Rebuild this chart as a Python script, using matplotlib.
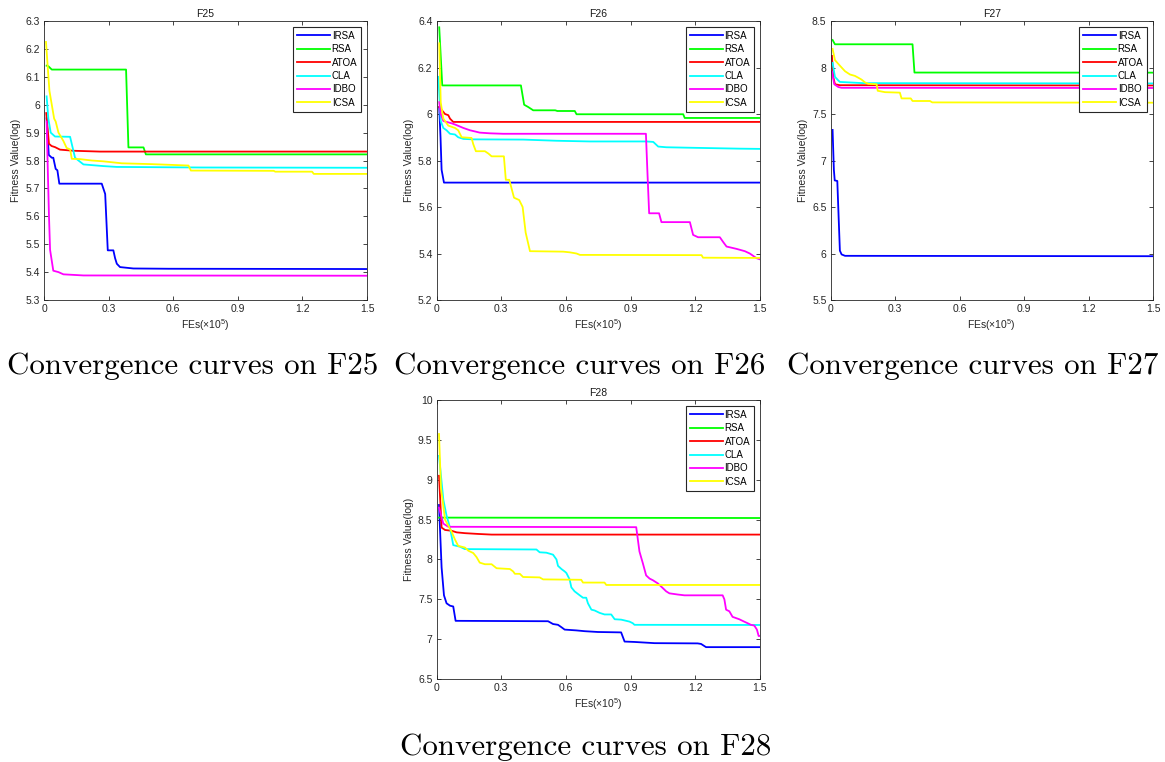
import numpy as np
import matplotlib
matplotlib.use("Agg")
import matplotlib.pyplot as plt
from matplotlib.ticker import FormatStrFormatter, MultipleLocator

plt.rcParams['font.family'] = ['Liberation Sans', 'DejaVu Sans']
plt.rcParams['mathtext.fontset'] = 'custom'
plt.rcParams['mathtext.rm'] = 'Liberation Sans'
plt.rcParams['mathtext.it'] = 'Liberation Sans:italic'

names = ['IRSA', 'RSA', 'ATOA', 'CLA', 'IDBO', 'ICSA']
colors = ['#0000ff', '#00ff00', '#ff0000', '#00ffff', '#ff00ff', '#ffff00']

# ---- F25 ----
f25_irsa_x = [0.012, 0.022, 0.036, 0.043, 0.054, 0.062, 0.071, 0.268, 0.284, 0.296, 0.322, 0.330, 0.338, 0.353, 0.415, 0.58, 1.5]
f25_irsa_y = [5.951, 5.82, 5.81, 5.81, 5.77, 5.765, 5.717, 5.717, 5.68, 5.478, 5.478, 5.45, 5.43, 5.418, 5.413, 5.412, 5.411]
f25_rsa_x = [0.012, 0.02, 0.036, 0.381, 0.392, 0.462, 0.473, 1.5]
f25_rsa_y = [6.14, 6.138, 6.126, 6.126, 5.847, 5.847, 5.822, 5.822]
f25_atoa_x = [0.01, 0.023, 0.035, 0.051, 0.074, 0.136, 0.26, 1.5]
f25_atoa_y = [5.97, 5.86, 5.852, 5.848, 5.839, 5.835, 5.832, 5.832]
f25_cla_x = [0.012, 0.02, 0.031, 0.051, 0.121, 0.144, 0.16, 0.183, 0.276, 0.338, 0.726, 1.5]
f25_cla_y = [6.03, 5.95, 5.9, 5.886, 5.885, 5.81, 5.8, 5.786, 5.78, 5.777, 5.775, 5.774]
f25_idbo_x = [0.012, 0.018, 0.023, 0.028, 0.043, 0.067, 0.09, 0.183, 1.5]
f25_idbo_y = [5.94, 5.75, 5.6, 5.48, 5.405, 5.40, 5.392, 5.388, 5.387]
f25_icsa_x = [0.009, 0.025, 0.036, 0.047, 0.054, 0.067, 0.09, 0.105, 0.121, 0.129, 0.167, 0.222, 0.276,
              0.361, 0.501, 0.671, 0.682, 1.067, 1.074, 1.245, 1.253, 1.5]
f25_icsa_y = [6.225, 6.05, 6.0, 5.95, 5.94, 5.9, 5.87, 5.845, 5.84, 5.806, 5.805, 5.80, 5.797,
              5.79, 5.787, 5.782, 5.764, 5.763, 5.76, 5.76, 5.752, 5.752]

# ---- F26 ----
f26_irsa_x = [0.012, 0.018, 0.023, 0.034, 1.5]
f26_irsa_y = [6.03, 5.9, 5.76, 5.705, 5.705]
f26_rsa_x = [0.012, 0.026, 0.391, 0.406, 0.425, 0.448, 0.55, 0.56, 0.641, 0.649, 1.144, 1.151, 1.5]
f26_rsa_y = [6.373, 6.123, 6.123, 6.04, 6.03, 6.016, 6.016, 6.013, 6.013, 5.999, 5.999, 5.983, 5.983]
f26_atoa_x = [0.012, 0.039, 0.054, 0.062, 0.077, 1.5]
f26_atoa_y = [6.03, 6.0, 5.995, 5.98, 5.966, 5.966]
f26_cla_x = [0.008, 0.019, 0.031, 0.046, 0.062, 0.085, 0.1, 0.124, 0.17, 0.402, 0.556, 0.711, 0.974,
             1.005, 1.028, 1.066, 1.175, 1.406, 1.5]
f26_cla_y = [6.16, 5.97, 5.94, 5.93, 5.915, 5.912, 5.90, 5.893, 5.891, 5.89, 5.885, 5.882, 5.882,
             5.88, 5.86, 5.857, 5.855, 5.851, 5.85]
f26_idbo_x = [0.012, 0.019, 0.031, 0.07, 0.085, 0.124, 0.155, 0.178, 0.2, 0.247, 0.309, 0.971, 0.978,
              0.986, 1.032, 1.043, 1.175, 1.19, 1.213, 1.314, 1.329, 1.345, 1.391, 1.43, 1.453, 1.484, 1.5]
f26_idbo_y = [6.051, 6.0, 5.97, 5.96, 5.955, 5.94, 5.93, 5.925, 5.92, 5.917, 5.915, 5.915, 5.75,
              5.573, 5.573, 5.535, 5.535, 5.48, 5.47, 5.47, 5.45, 5.43, 5.42, 5.41, 5.40, 5.38, 5.375]
f26_icsa_x = [0.012, 0.019, 0.031, 0.054, 0.085, 0.1, 0.116, 0.162, 0.17, 0.182, 0.224, 0.24, 0.255,
              0.312, 0.321, 0.337, 0.359, 0.383, 0.399, 0.413, 0.433, 0.587, 0.618, 0.649, 0.665,
              1.229, 1.236, 1.5]
f26_icsa_y = [6.304, 6.05, 5.98, 5.95, 5.94, 5.93, 5.90, 5.897, 5.87, 5.84, 5.84, 5.83, 5.818,
              5.818, 5.717, 5.717, 5.64, 5.63, 5.60, 5.49, 5.41, 5.408, 5.405, 5.40, 5.394,
              5.393, 5.382, 5.381]

# ---- F27 ----
f27_irsa_x = [0.009, 0.015, 0.019, 0.031, 0.037, 0.043, 0.051, 0.067, 1.5]
f27_irsa_y = [7.329, 6.9, 6.786, 6.78, 6.4, 6.03, 5.99, 5.975, 5.971]
f27_rsa_x = [0.009, 0.02, 0.381, 0.39, 1.5]
f27_rsa_y = [8.296, 8.25, 8.25, 7.946, 7.945]
f27_atoa_x = [0.006, 0.012, 0.02, 0.043, 1.5]
f27_atoa_y = [8.125, 7.9, 7.82, 7.81, 7.807]
f27_cla_x = [0.009, 0.02, 0.036, 0.043, 0.152, 1.5]
f27_cla_y = [8.05, 7.9, 7.86, 7.845, 7.832, 7.829]
f27_idbo_x = [0.006, 0.017, 0.036, 0.051, 1.5]
f27_idbo_y = [7.957, 7.82, 7.79, 7.782, 7.78]
f27_icsa_x = [0.009, 0.02, 0.043, 0.067, 0.09, 0.113, 0.129, 0.144, 0.16, 0.175, 0.214, 0.219, 0.253,
              0.322, 0.33, 0.373, 0.381, 0.462, 0.473, 1.5]
f27_icsa_y = [8.2, 8.08, 8.02, 7.96, 7.925, 7.91, 7.89, 7.87, 7.84, 7.825, 7.82, 7.75, 7.735,
              7.73, 7.668, 7.668, 7.64, 7.64, 7.625, 7.622]

# ---- F28 ----
f28_irsa_x = [0.011, 0.023, 0.034, 0.046, 0.062, 0.077, 0.088, 0.517, 0.54, 0.563, 0.579, 0.594, 0.648,
              0.687, 0.748, 0.856, 0.872, 0.918, 0.98, 1.011, 1.211, 1.227, 1.25, 1.5]
f28_irsa_y = [8.684, 7.9, 7.55, 7.45, 7.42, 7.41, 7.23, 7.225, 7.19, 7.18, 7.15, 7.12, 7.11,
              7.10, 7.09, 7.085, 6.97, 6.965, 6.955, 6.95, 6.947, 6.94, 6.90, 6.9]
f28_rsa_x = [0.011, 1.5]
f28_rsa_y = [8.525, 8.52]
f28_atoa_x = [0.011, 0.023, 0.039, 0.069, 0.093, 0.131, 0.193, 0.255, 1.5]
f28_atoa_y = [9.05, 8.4, 8.37, 8.36, 8.34, 8.33, 8.32, 8.312, 8.312]
f28_cla_x = [0.011, 0.031, 0.046, 0.062, 0.077, 0.108, 0.131, 0.463, 0.478, 0.509, 0.54, 0.556, 0.563,
             0.579, 0.594, 0.602, 0.617, 0.625, 0.64, 0.664, 0.679, 0.694, 0.702, 0.718, 0.733,
             0.756, 0.779, 0.81, 0.826, 0.856, 0.872, 0.895, 0.91, 0.918, 1.5]
f28_cla_y = [9.30, 8.75, 8.55, 8.4, 8.18, 8.16, 8.13, 8.125, 8.09, 8.085, 8.06, 8.0, 7.92,
             7.88, 7.85, 7.83, 7.75, 7.65, 7.6, 7.55, 7.52, 7.52, 7.45, 7.37, 7.36,
             7.33, 7.31, 7.31, 7.25, 7.245, 7.235, 7.22, 7.2, 7.18, 7.178]
f28_idbo_x = [0.011, 0.031, 0.054, 0.926, 0.941, 0.957, 0.972, 0.988, 1.003, 1.026, 1.042, 1.065, 1.08,
              1.119, 1.15, 1.327, 1.335, 1.343, 1.358, 1.373, 1.404, 1.427, 1.443, 1.458, 1.474,
              1.486, 1.494, 1.5]
f28_idbo_y = [8.65, 8.45, 8.41, 8.405, 8.1, 7.95, 7.8, 7.76, 7.74, 7.7, 7.66, 7.6, 7.575,
              7.56, 7.55, 7.55, 7.5, 7.37, 7.35, 7.28, 7.25, 7.22, 7.2, 7.18, 7.17,
              7.12, 7.04, 7.04]
f28_icsa_x = [0.011, 0.02, 0.039, 0.069, 0.085, 0.1, 0.131, 0.147, 0.17, 0.185, 0.2, 0.224, 0.255,
              0.278, 0.34, 0.355, 0.363, 0.386, 0.401, 0.478, 0.494, 0.671, 0.679, 0.779, 0.787, 1.5]
f28_icsa_y = [9.574, 8.9, 8.5, 8.35, 8.25, 8.17, 8.15, 8.11, 8.08, 8.03, 7.96, 7.94, 7.94,
              7.89, 7.88, 7.85, 7.82, 7.82, 7.78, 7.775, 7.75, 7.745, 7.71, 7.71, 7.68, 7.68]

panels = [
    ('F25', [0.0378, 0.6063, 0.2772, 0.3661], (5.3, 6.3), 0.1,
     [(f25_irsa_x, f25_irsa_y), (f25_rsa_x, f25_rsa_y), (f25_atoa_x, f25_atoa_y),
      (f25_cla_x, f25_cla_y), (f25_idbo_x, f25_idbo_y), (f25_icsa_x, f25_icsa_y)]),
    ('F26', [0.3748, 0.6063, 0.2775, 0.3661], (5.2, 6.4), 0.2,
     [(f26_irsa_x, f26_irsa_y), (f26_rsa_x, f26_rsa_y), (f26_atoa_x, f26_atoa_y),
      (f26_cla_x, f26_cla_y), (f26_idbo_x, f26_idbo_y), (f26_icsa_x, f26_icsa_y)]),
    ('F27', [0.7130, 0.6063, 0.2767, 0.3661], (5.5, 8.5), 0.5,
     [(f27_irsa_x, f27_irsa_y), (f27_rsa_x, f27_rsa_y), (f27_atoa_x, f27_atoa_y),
      (f27_cla_x, f27_cla_y), (f27_idbo_x, f27_idbo_y), (f27_icsa_x, f27_icsa_y)]),
    ('F28', [0.3748, 0.1089, 0.2775, 0.3661], (6.5, 10), 0.5,
     [(f28_irsa_x, f28_irsa_y), (f28_rsa_x, f28_rsa_y), (f28_atoa_x, f28_atoa_y),
      (f28_cla_x, f28_cla_y), (f28_idbo_x, f28_idbo_y), (f28_icsa_x, f28_icsa_y)]),
]

fig = plt.figure(figsize=(11.65, 7.62), dpi=100)
edge = '#262626'

for title, rect, ylim, ystep, curves in panels:
    ax = fig.add_axes(rect)
    for (x, y), name, c in zip(curves, names, colors):
        ax.plot(x, y, color=c, lw=1.3, label=name)
    ax.set_xlim(0, 1.5)
    ax.set_ylim(*ylim)
    ax.xaxis.set_major_locator(MultipleLocator(0.3))
    ax.yaxis.set_major_locator(MultipleLocator(ystep))
    ax.xaxis.set_major_formatter(FormatStrFormatter('%g'))
    ax.yaxis.set_major_formatter(FormatStrFormatter('%g'))
    ax.tick_params(direction='in', top=True, right=True, labelsize=7.5, length=3,
                   width=0.6, color=edge, labelcolor=edge, pad=3)
    for s in ax.spines.values():
        s.set_color(edge)
        s.set_linewidth(0.6)
    ax.set_title(title, fontsize=7.5, pad=3, color='#1a1a1a')
    ax.set_xlabel(r'FEs($\times$10$^5$)', fontsize=7.5, labelpad=2, color=edge)
    ax.set_ylabel('Fitness Value(log)', fontsize=7.5, labelpad=3, color=edge)
    leg = ax.legend(loc='upper right', fontsize=7, fancybox=False, framealpha=1,
                    edgecolor='#262626', handlelength=3.4, handletextpad=0.2,
                    borderaxespad=0.6, labelspacing=0.35, borderpad=0.4)
    leg.get_frame().set_linewidth(0.8)

captions = [
    ('Convergence curves on F25', 0.165, 1 - 374 / 762),
    ('Convergence curves on F26', 0.498, 1 - 374 / 762),
    ('Convergence curves on F27', 0.835, 1 - 374 / 762),
    ('Convergence curves on F28', 0.5025, 1 - 755 / 762),
]
for text, cx, cy in captions:
    fig.text(cx, cy, text, ha='center', va='baseline', fontsize=22.3, family='cmr10')

fig.savefig('out.png', dpi=100)
